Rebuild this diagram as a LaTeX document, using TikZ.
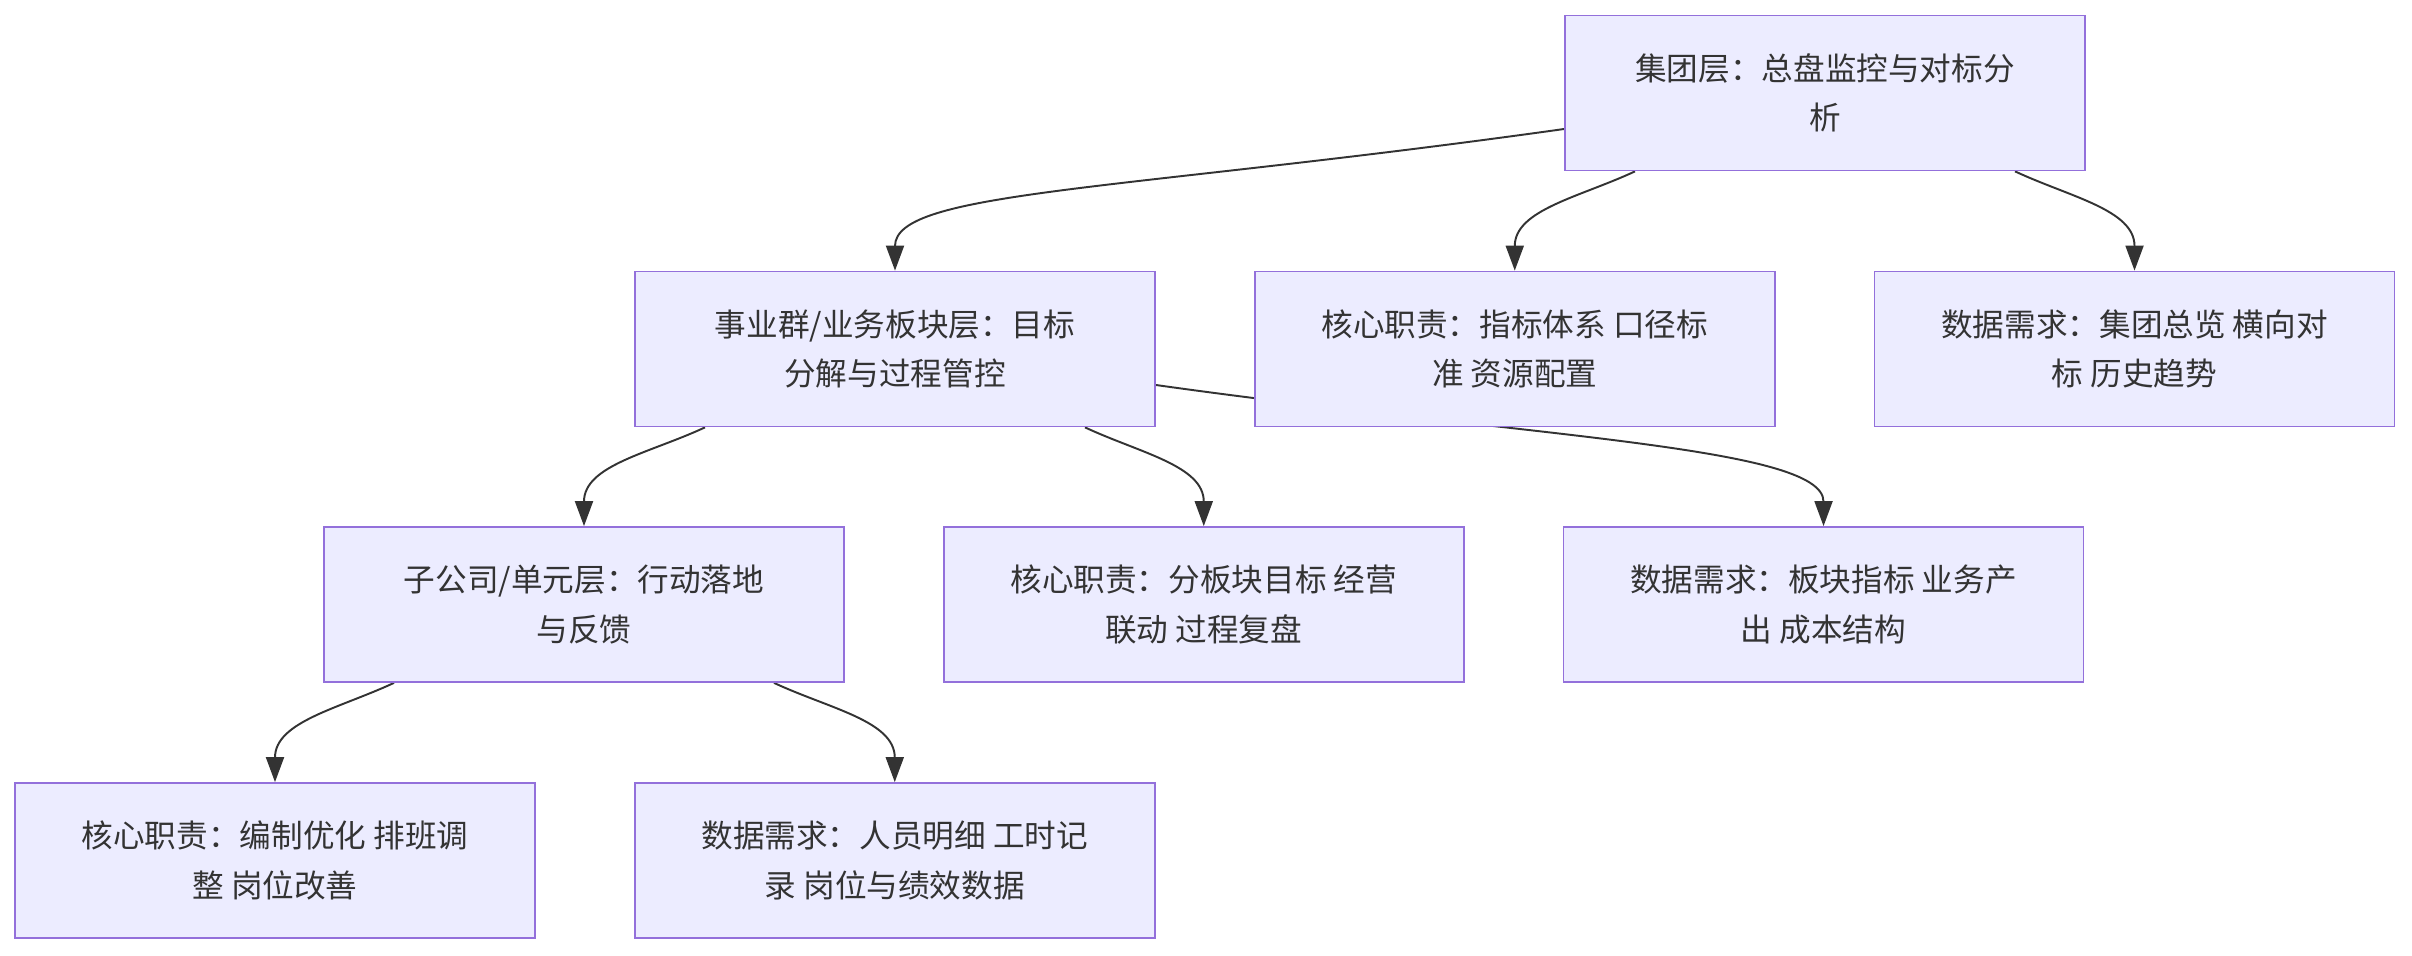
\documentclass[tikz,border=0pt]{standalone}
\usepackage{fontspec}
\setmainfont{Noto Sans CJK SC}
\usepackage{tikz}
\usetikzlibrary{arrows.meta, positioning, backgrounds}
\definecolor{boxfill}{HTML}{ECECFF}
\definecolor{boxline}{HTML}{9370DB}
\definecolor{linegray}{HTML}{333333}

\begin{document}
\begin{tikzpicture}[
    node distance=1.96cm and 1.96cm,
    box/.style={draw=boxline, fill=boxfill, line width=1pt, minimum width=10.4cm, minimum height=3.1cm, align=center, text=linegray, font=\fontsize{18}{28}\selectfont},
    arrow/.style={-{Triangle[length=5mm, width=3.6mm]}, draw=linegray, line width=1.1pt}
]
    \useasboundingbox (0,0) rectangle (48.24,-19.12);

    \node[box] (group) at (36.5,-1.86) {集团层：总盘监控与对标分\\析};
    \node[box] (seg) at (17.9,-6.98) {事业群/业务板块层：目标\\分解与过程管控};
    \node[box, right=of seg] (groupduty) {核心职责：指标体系 口径标\\准 资源配置};
    \node[box, right=of groupduty] (groupdata) {数据需求：集团总览 横向对\\标 历史趋势};
    \node[box] (unit) at (11.68,-12.09) {子公司/单元层：行动落地\\与反馈};
    \node[box, right=of unit] (segduty) {核心职责：分板块目标 经营\\联动 过程复盘};
    \node[box, right=of segduty] (segdata) {数据需求：板块指标 业务产\\出 成本结构};
    \node[box] (unitduty) at (5.5,-17.21) {核心职责：编制优化 排班调\\整 岗位改善};
    \node[box, right=of unitduty] (unitdata) {数据需求：人员明细 工时记\\录 岗位与绩效数据};

    \begin{pgfonlayer}{background}
    \draw[arrow] ([yshift=-0.72cm]group.west) .. controls +(188:9cm) and +(90:1.6cm) .. (seg.north);
    \draw[arrow] ([xshift=-3.8cm]group.south) to[out=205, in=90] (groupduty.north);
    \draw[arrow] ([xshift=3.8cm]group.south) to[out=-25, in=90] (groupdata.north);
    \draw[arrow] ([xshift=-3.8cm]seg.south) to[out=205, in=90] (unit.north);
    \draw[arrow] ([xshift=3.8cm]seg.south) to[out=-25, in=90] (segduty.north);
    \draw[arrow] ([yshift=-0.72cm]seg.east) .. controls +(-8:7.5cm) and +(90:1.6cm) .. (segdata.north);
    \draw[arrow] ([xshift=-3.8cm]unit.south) to[out=205, in=90] (unitduty.north);
    \draw[arrow] ([xshift=3.8cm]unit.south) to[out=-25, in=90] (unitdata.north);
    \end{pgfonlayer}
\end{tikzpicture}
\end{document}
